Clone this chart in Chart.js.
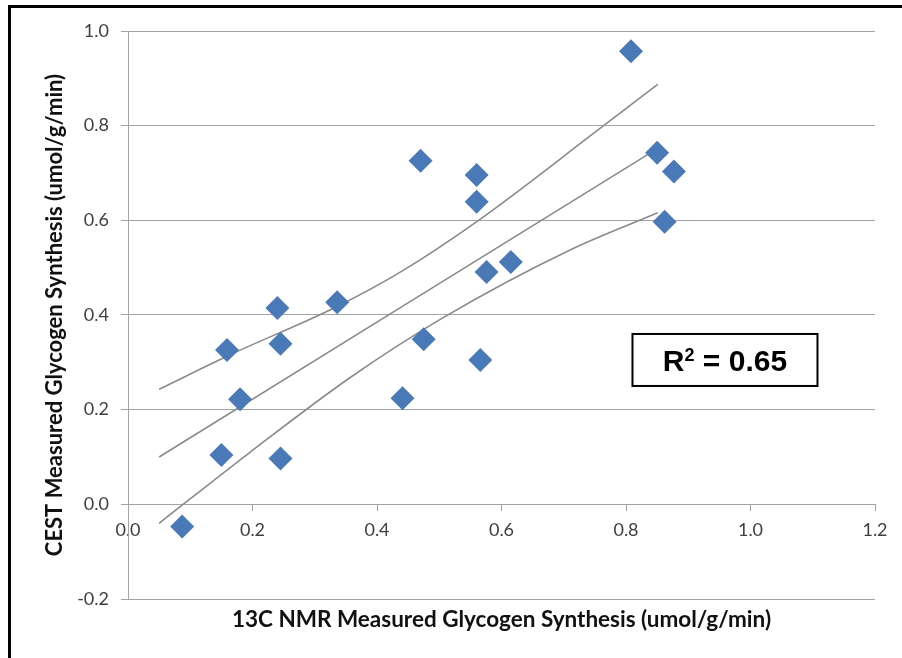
<!DOCTYPE html>
<html>
<head>
<meta charset="utf-8">
<script src="https://cdn.jsdelivr.net/npm/chart.js@4"></script>
<style>
  html, body { margin: 0; padding: 0; background: #fff; overflow: hidden; }
  #frame { position: absolute; left: 8px; top: 5px; width: 900px; height: 700px;
           border-left: 3px solid #000; border-top: 3px solid #000; }
  #wrap { position: absolute; left: 0; top: 0; width: 902px; height: 658px; }
</style>
</head>
<body>
<div id="frame"></div>
<div id="wrap"><canvas id="chart"></canvas></div>
<script>
// measured points (13C NMR vs CEST)
var nmrX  = [0.808, 0.470, 0.560, 0.560, 0.850, 0.877, 0.862, 0.576, 0.615, 0.240,
             0.336, 0.159, 0.245, 0.475, 0.566, 0.180, 0.441, 0.150, 0.245, 0.087];
var cestY = [0.957, 0.726, 0.696, 0.639, 0.743, 0.703, 0.597, 0.491, 0.512, 0.415,
             0.427, 0.326, 0.339, 0.349, 0.305, 0.222, 0.224, 0.104, 0.097, -0.047];

// fitted line and confidence band
var fitX   = [0.05, 0.851];
var fitY   = [0.100, 0.752];
var upperX = [0.05, 0.159, 0.336, 0.438, 0.562, 0.764, 0.851];
var upperY = [0.243, 0.313, 0.418, 0.491, 0.599, 0.800, 0.887];
var lowerX = [0.05, 0.196, 0.357, 0.507, 0.711, 0.851];
var lowerY = [-0.040, 0.110, 0.268, 0.395, 0.538, 0.616];

var xTicks = [0.0, 0.2, 0.4, 0.6, 0.8, 1.0, 1.2];
var yTicks = [-0.2, 0.0, 0.2, 0.4, 0.6, 0.8, 1.0];

var xTitle = '13C NMR Measured Glycogen Synthesis (umol/g/min)';
var yTitle = 'CEST Measured Glycogen Synthesis (umol/g/min)';
var r2Text = '0.65';

function pts(xs, ys) {
    return xs.map(function (x, i) { return { x: x, y: ys[i] }; });
}

var gridGray = '#a3a3a3';
var lineGray = '#8a8a8a';

var lineStyle = {
    showLine: true,
    pointRadius: 0,
    borderColor: lineGray,
    borderWidth: 1.6,
    cubicInterpolationMode: 'monotone',
    fill: false
};

// x axis title and the R² box
var extras = {
    id: 'extras',
    afterDraw: function (chart) {
        var ctx = chart.ctx, area = chart.chartArea;
        var sx = chart.scales.x, sy = chart.scales.y;
        ctx.save();
        ctx.fillStyle = '#111';
        ctx.font = 'bold 22.5px Lato';
        ctx.textAlign = 'center';
        ctx.textBaseline = 'middle';
        ctx.fillText(xTitle, (area.left + area.right) / 2, area.bottom + 21);

        var cx = sx.getPixelForValue(0.959), cy = sy.getPixelForValue(0.305);
        var w = 185, h = 52;
        ctx.lineWidth = 2;
        ctx.strokeStyle = '#000';
        ctx.fillStyle = '#fff';
        ctx.fillRect(cx - w / 2, cy - h / 2, w, h);
        ctx.strokeRect(cx - w / 2, cy - h / 2, w, h);

        ctx.fillStyle = '#000';
        ctx.textBaseline = 'alphabetic';
        ctx.textAlign = 'left';
        var big = 'bold 30px "Liberation Sans"', small = 'bold 18px "Liberation Sans"';
        ctx.font = big;
        var wR = ctx.measureText('R').width;
        var wRest = ctx.measureText(' = ' + r2Text).width;
        ctx.font = small;
        var w2 = ctx.measureText('2').width;
        var x0 = cx - (wR + w2 + wRest) / 2, base = cy + 11;
        ctx.font = big;
        ctx.fillText('R', x0, base);
        ctx.font = small;
        ctx.fillText('2', x0 + wR, base - 10);
        ctx.font = big;
        ctx.fillText(' = ' + r2Text, x0 + wR + w2, base);
        ctx.restore();
    }
};

new Chart(document.getElementById('chart'), {
    type: 'scatter',
    data: {
        datasets: [
            {
                label: 'Glycogen synthesis',
                data: pts(nmrX, cestY),
                pointStyle: 'rectRot',
                pointRadius: 12,
                pointBackgroundColor: '#4a79b7',
                pointBorderWidth: 0
            },
            Object.assign({ label: 'Fit', data: pts(fitX, fitY) }, lineStyle),
            Object.assign({ label: 'Upper', data: pts(upperX, upperY) }, lineStyle),
            Object.assign({ label: 'Lower', data: pts(lowerX, lowerY) }, lineStyle)
        ]
    },
    options: {
        responsive: true,
        maintainAspectRatio: false,
        animation: false,
        layout: { padding: { top: 31, right: 27, bottom: 59, left: 0 } },
        plugins: {
            legend: { display: false },
            tooltip: { enabled: false }
        },
        scales: {
            x: {
                type: 'linear',
                position: { y: 0 },
                min: 0,
                max: 1.2,
                afterBuildTicks: function (s) { s.ticks = xTicks.map(function (v) { return { value: v }; }); },
                grid: { drawOnChartArea: false, drawTicks: true, tickLength: 6, color: gridGray },
                border: { display: true, color: gridGray, width: 1 },
                ticks: {
                    padding: 9,
                    color: '#404040',
                    font: { family: 'Lato', size: 18 },
                    maxRotation: 0,
                    callback: function (v) { return Number(v).toFixed(1); }
                }
            },
            y: {
                type: 'linear',
                min: -0.2,
                max: 1.0,
                afterBuildTicks: function (s) { s.ticks = yTicks.map(function (v) { return { value: v }; }); },
                afterFit: function (s) { s.width = 128; },
                grid: { color: gridGray, tickLength: 7, lineWidth: 1 },
                border: { display: true, color: gridGray, width: 1 },
                ticks: {
                    padding: 12,
                    color: '#404040',
                    font: { family: 'Lato', size: 18 },
                    callback: function (v) { return Number(v).toFixed(1); }
                },
                title: {
                    display: true,
                    text: yTitle,
                    color: '#111',
                    font: { family: 'Lato', size: 22, weight: 'bold' },
                    padding: { top: 42, bottom: 0 }
                }
            }
        }
    },
    plugins: [extras]
});
</script>
</body>
</html>
